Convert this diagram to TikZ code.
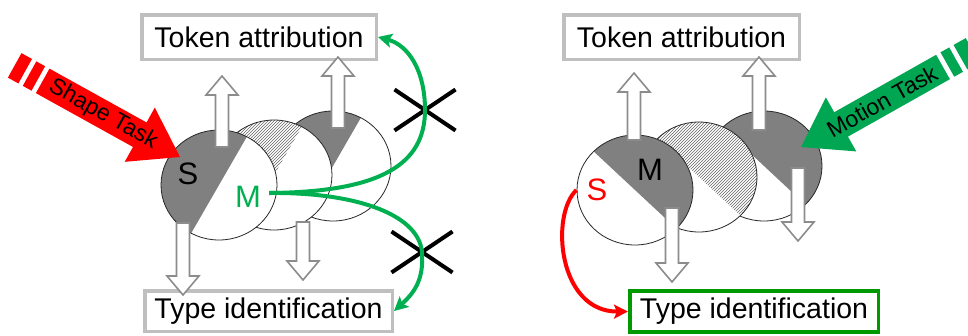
\documentclass[tikz,border=0pt]{standalone}
\usepackage{fontspec}
\setmainfont{Liberation Sans}
\usetikzlibrary{patterns}
\usetikzlibrary{shapes.misc}
\usetikzlibrary{arrows.meta}
\definecolor{boxgray}{HTML}{BFBFBF}
\definecolor{diskgray}{HTML}{808080}
\definecolor{taskred}{HTML}{FF0000}
\definecolor{taskgreen}{HTML}{00A651}
\definecolor{linkgreen}{HTML}{00B050}
\definecolor{boxgreen}{HTML}{009A00}
\tikzset{labelbox/.style={draw=boxgray,line width=3.5pt,fill=white,inner sep=0pt,font=\fontsize{28.5}{30}\selectfont}}
\tikzset{hitbox/.style={labelbox,draw=boxgreen}}
\tikzset{disk/.style={draw=black!85,line width=0.8pt}}
\tikzset{blockarrow/.style={draw=black!45,line width=1.6pt,fill=white,line join=miter}}
\tikzset{letter/.style={inner sep=2pt,font=\fontsize{31}{33}\selectfont}}
\tikzset{tasklabel/.style={inner sep=0pt,font=\fontsize{23}{25}\selectfont}}
\tikzset{link/.style={line width=4pt,-{Stealth[length=14pt,width=14pt,inset=3pt]}}}
\tikzset{nope/.style={cross out,draw=black,line width=4pt,inner sep=0pt,minimum width=57,minimum height=37}}

\begin{document}
\begin{tikzpicture}[x=1pt,y=-1pt]
      \useasboundingbox (0,0) rectangle (968,335);
      \node[labelbox,minimum width=234.5,minimum height=44.5] at (259,37) (tokL) {Token attribution};
      \node[labelbox,minimum width=247.5,minimum height=40.5] at (268.5,311) (typL) {Type identification};
      \node[labelbox,minimum width=235.5,minimum height=44.5] at (681.5,37) (tokR) {Token attribution};
      \node[hitbox,minimum width=248.5,minimum height=41] at (754,311.5) (typR) {Type identification};

      \foreach \cx/\cy/\ang/\hatch in {333/166/60/0,274/175/60/1,219/185/60/0,764/166/-43/0,699/177/-43/1,635/190/-43/0} {
        \begin{scope}[shift={(\cx,\cy)}]
          \fill[white] (0,0) ellipse (58 and 55);
          \begin{scope}
            \clip (0,0) ellipse (58 and 55);
            \ifnum\hatch=1
              \fill[pattern=north east lines,pattern color=black!60,rotate=\ang] (-70,0) rectangle (70,-70);
            \else
              \fill[diskgray,rotate=\ang] (-70,0) rectangle (70,-70);
            \fi
          \end{scope}
          \draw[disk] (0,0) ellipse (58 and 55);
        \end{scope}
      }

      \foreach \ax/\ay/\tip in {222/147/76,338/128/57,183/223/295,303/222/280,634/140/73,759/130/57,672/208/282,798/168/241} {
        \pgfmathsetmacro{\heady}{\tip+19*sign(\ay-\tip)}
        \draw[blockarrow] (\ax-6.5,\ay) -- (\ax-6.5,\heady) -- (\ax-16,\heady) -- (\ax,\tip) -- (\ax+16,\heady) -- (\ax+6.5,\heady) -- (\ax+6.5,\ay) -- cycle;
      }

      \begin{scope}[shift={(180,157)},rotate=-29]
        \fill[taskred] (0,0) -- (-46,31) -- (-46,14) -- (-157,14) -- (-157,-14) -- (-46,-14) -- (-46,-31) -- cycle;
        \fill[taskred] (-162,-14) rectangle (-172,14);
        \fill[taskred] (-177,-14) rectangle (-189,14);
        \node[tasklabel,rotate=-29] at (-88,0) (shapetask) {Shape Task};
      \end{scope}
      \begin{scope}[shift={(801,147)},rotate=209.4]
        \fill[taskgreen] (0,0) -- (-46,31) -- (-46,14) -- (-163,14) -- (-163,-14) -- (-46,-14) -- (-46,-31) -- cycle;
        \fill[taskgreen] (-168,-14) rectangle (-178,14);
        \fill[taskgreen] (-183,-14) rectangle (-197,14);
        \node[tasklabel,rotate=29.4] at (-93,0) (motiontask) {Motion Task};
      \end{scope}

      \node[letter] at (188,174) (sL) {S};
      \node[letter,text=linkgreen] at (248,197) (mL) {M};
      \node[letter] at (650,170) (mR) {M};
      \node[letter,text=taskred] at (597,190) (sR) {S};

      \node[nope] at (425,110) (xtok) {};
      \node[nope] at (422,252) (xtype) {};

      \draw[link,linkgreen] ([xshift=6pt,yshift=4pt]mL.east) .. controls (380,192) and (425,165) .. (xtok.center) .. controls (425,70) and (408,45) .. (tokL.east);
      \draw[link,linkgreen] ([xshift=6pt,yshift=4pt]mL.east) .. controls (350,192) and (418,212) .. (xtype.center) .. controls (424,280) and (414,293) .. (typL.east);
      \draw[link,taskred] ([xshift=-8pt]sR.west) .. controls (550,215) and (558,312) .. (typR.west);
    \end{tikzpicture}
\end{document}
